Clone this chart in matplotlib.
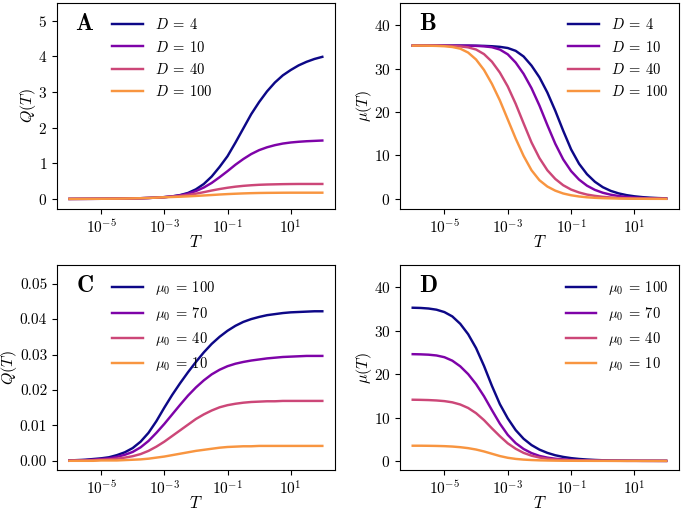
import numpy as np
import matplotlib
matplotlib.use("Agg")
import matplotlib.pyplot as plt

# ------------------------------
# Style
# ------------------------------
plt.rcParams["font.family"] = "serif"
plt.rcParams["font.serif"] = ["cmr10", "DejaVu Serif"]
plt.rcParams["mathtext.fontset"] = "cm"
plt.rcParams["axes.formatter.use_mathtext"] = True
plt.rcParams["font.size"] = 11

COLORS = ["#0d0887", "#7e03a8", "#cc4778", "#f89540"]

# ------------------------------
# Data
# ------------------------------
LOG_T = [-6.0, -5.75, -5.5, -5.25, -5.0, -4.75, -4.5, -4.25, -4.0, -3.75, -3.5,
         -3.25, -3.0, -2.75, -2.5, -2.25, -2.0, -1.75, -1.5, -1.25, -1.0, -0.75,
         -0.5, -0.25, 0.0, 0.25, 0.5, 0.75, 1.0, 1.25, 1.5, 1.75, 2.0]

D_LABELS = [r"$D\:=\:4$", r"$D\:=\:10$", r"$D\:=\:40$", r"$D\:=\:100$"]
MU0_LABELS = [r"$\mu_0\:=\:100$", r"$\mu_0\:=\:70$", r"$\mu_0\:=\:40$", r"$\mu_0\:=\:10$"]

# panel A: Q(T) for different D
Q_D4 = [0.0, 0.001, 0.002, 0.003, 0.004, 0.006, 0.008, 0.011, 0.015, 0.02, 0.027,
        0.037, 0.05, 0.072, 0.108, 0.168, 0.27, 0.42, 0.63, 0.9, 1.2, 1.58,
        1.98, 2.38, 2.72, 3.02, 3.27, 3.47, 3.62, 3.75, 3.85, 3.93, 3.99]
Q_D10 = [0.0, 0.001, 0.002, 0.003, 0.004, 0.006, 0.008, 0.011, 0.015, 0.02, 0.027,
         0.037, 0.05, 0.07, 0.10, 0.148, 0.22, 0.32, 0.45, 0.61, 0.78, 0.96,
         1.12, 1.26, 1.37, 1.45, 1.51, 1.555, 1.585, 1.605, 1.62, 1.63, 1.64]
Q_D40 = [0.0, 0.001, 0.002, 0.003, 0.004, 0.006, 0.008, 0.011, 0.015, 0.02, 0.027,
         0.037, 0.05, 0.065, 0.085, 0.112, 0.147, 0.19, 0.236, 0.278, 0.314, 0.344,
         0.367, 0.384, 0.397, 0.405, 0.41, 0.415, 0.418, 0.42, 0.42, 0.42, 0.42]
Q_D100 = [0.0, 0.001, 0.002, 0.003, 0.004, 0.006, 0.008, 0.011, 0.015, 0.02, 0.027,
          0.037, 0.047, 0.054, 0.062, 0.072, 0.084, 0.097, 0.11, 0.124, 0.136, 0.146,
          0.155, 0.162, 0.167, 0.17, 0.172, 0.174, 0.175, 0.175, 0.175, 0.175, 0.175]

# panel B: mu(T) for different D
MU_D4 = [35.3, 35.3, 35.3, 35.3, 35.3, 35.3, 35.3, 35.3, 35.28, 35.24, 35.16,
         35.02, 34.75, 34.1, 32.8, 30.7, 28.0, 24.5, 20.3, 15.7, 11.4, 8.1,
         5.7, 3.95, 2.7, 1.85, 1.27, 0.87, 0.6, 0.41, 0.28, 0.19, 0.13]
MU_D10 = [35.3, 35.3, 35.3, 35.3, 35.3, 35.3, 35.3, 35.28, 35.24, 35.14, 34.93,
          34.4, 33.3, 31.4, 28.8, 25.5, 21.5, 17.0, 12.7, 9.1, 6.4, 4.45,
          3.05, 2.08, 1.42, 0.97, 0.67, 0.46, 0.31, 0.21, 0.14, 0.1, 0.07]
MU_D40 = [35.3, 35.3, 35.3, 35.3, 35.28, 35.22, 35.12, 34.9, 34.4, 33.35, 31.6,
          29.1, 25.9, 21.9, 17.4, 13.0, 9.4, 6.6, 4.6, 3.15, 2.15, 1.48,
          1.0, 0.7, 0.48, 0.33, 0.22, 0.15, 0.1, 0.08, 0.06, 0.05, 0.04]
MU_D100 = [35.3, 35.3, 35.28, 35.24, 35.16, 34.98, 34.6, 33.7, 32.1, 29.7, 26.5,
           22.7, 18.3, 13.9, 9.9, 6.6, 4.3, 2.85, 1.9, 1.25, 0.84, 0.56,
           0.37, 0.25, 0.17, 0.12, 0.08, 0.06, 0.04, 0.03, 0.02, 0.02, 0.01]

# panel C: Q(T) for different mu0
Q_MU100 = [0.0001, 0.0002, 0.0003, 0.0005, 0.0007, 0.0010, 0.0016, 0.0024, 0.0036,
           0.0054, 0.0079, 0.0112, 0.0150, 0.0186, 0.0219, 0.0250, 0.0279, 0.0306,
           0.0330, 0.0350, 0.0367, 0.0381, 0.0392, 0.0400, 0.0406, 0.0411, 0.0414,
           0.0417, 0.0419, 0.0420, 0.0421, 0.0422, 0.0422]
Q_MU70 = [0.0001, 0.0001, 0.0002, 0.0003, 0.0005, 0.0007, 0.0011, 0.0017, 0.0025,
          0.0038, 0.0056, 0.0079, 0.0104, 0.0131, 0.0158, 0.0184, 0.0207, 0.0227,
          0.0244, 0.0257, 0.0267, 0.0274, 0.0279, 0.0283, 0.0286, 0.0289, 0.0291,
          0.0293, 0.0294, 0.0295, 0.0296, 0.0296, 0.0296]
Q_MU40 = [0.0000, 0.0001, 0.0001, 0.0002, 0.0003, 0.0004, 0.0006, 0.0009, 0.0013,
          0.0019, 0.0028, 0.0040, 0.0054, 0.0070, 0.0086, 0.0102, 0.0118, 0.0131,
          0.0142, 0.0151, 0.0157, 0.0161, 0.0164, 0.0166, 0.0167, 0.0168, 0.0168,
          0.0169, 0.0169, 0.0169, 0.0169, 0.0169, 0.0169]
Q_MU10 = [0.0, 0.0, 0.0, 0.0, 0.0001, 0.0001, 0.0001, 0.0002, 0.0003,
          0.0004, 0.0006, 0.0009, 0.0012, 0.0016, 0.0020, 0.0024, 0.0028, 0.0031,
          0.0034, 0.0037, 0.0039, 0.0040, 0.0041, 0.0041, 0.0042, 0.0042, 0.0042,
          0.0042, 0.0042, 0.0042, 0.0042, 0.0042, 0.0042]

# panel D: mu(T) for different mu0
MU_MU100 = [35.3, 35.25, 35.12, 34.85, 34.3, 33.3, 31.6, 29.2, 26.0, 21.9, 17.3,
            13.1, 9.8, 7.1, 5.1, 3.65, 2.6, 1.85, 1.3, 0.92, 0.64, 0.45,
            0.32, 0.22, 0.15, 0.1, 0.07, 0.05, 0.03, 0.02, 0.02, 0.01, 0.01]
MU_MU70 = [24.6, 24.56, 24.48, 24.3, 23.9, 23.1, 21.8, 20.0, 17.7, 14.9, 11.7,
           8.6, 6.0, 4.1, 2.75, 1.8, 1.15, 0.76, 0.5, 0.35, 0.25, 0.17,
           0.12, 0.08, 0.06, 0.04, 0.03, 0.02, 0.02, 0.01, 0.01, 0.01, 0.0]
MU_MU40 = [14.1, 14.07, 14.02, 13.93, 13.78, 13.5, 13.0, 12.2, 11.0, 9.4, 7.5,
           5.7, 4.05, 2.8, 1.85, 1.2, 0.78, 0.5, 0.32, 0.22, 0.15, 0.1,
           0.07, 0.05, 0.03, 0.02, 0.02, 0.01, 0.01, 0.01, 0.0, 0.0, 0.0]
MU_MU10 = [3.5, 3.5, 3.48, 3.45, 3.4, 3.31, 3.16, 2.94, 2.62, 2.18, 1.65,
           1.12, 0.72, 0.46, 0.3, 0.2, 0.13, 0.09, 0.06, 0.04, 0.03, 0.02,
           0.02, 0.01, 0.01, 0.01, 0.0, 0.0, 0.0, 0.0, 0.0, 0.0, 0.0]

T = np.power(10.0, LOG_T)

# ------------------------------
# Figure
# ------------------------------
fig = plt.figure(figsize=(6.85, 5.12), dpi=100)
ax_a = fig.add_axes([0.083, 0.592, 0.406, 0.402])
ax_b = fig.add_axes([0.584, 0.592, 0.407, 0.402])
ax_c = fig.add_axes([0.083, 0.082, 0.406, 0.400])
ax_d = fig.add_axes([0.584, 0.082, 0.407, 0.400])

panels = [
    (ax_a, "A", [Q_D4, Q_D10, Q_D40, Q_D100], D_LABELS, r"$Q(T)$",
     (-0.28, 5.5), [0, 1, 2, 3, 4, 5], "left", 0.0),
    (ax_b, "B", [MU_D4, MU_D10, MU_D40, MU_D100], D_LABELS, r"$\mu(T)$",
     (-2.3, 45.1), [0, 10, 20, 30, 40], "right", 0.0),
    (ax_c, "C", [Q_MU100, Q_MU70, Q_MU40, Q_MU10], MU0_LABELS, r"$Q(T)$",
     (-0.0026, 0.0552), [0.0, 0.01, 0.02, 0.03, 0.04, 0.05], "left", 0.5),
    (ax_d, "D", [MU_MU100, MU_MU70, MU_MU40, MU_MU10], MU0_LABELS, r"$\mu(T)$",
     (-2.1, 45.1), [0, 10, 20, 30, 40], "right", 0.0),
]

for ax, tag, series, labels, ylabel, ylim, yticks, side, ypad in panels:
    for ys, lab, col in zip(series, labels, COLORS):
        ax.plot(T, ys, color=col, lw=1.75, label=lab, solid_joinstyle="round")
    ax.set_xscale("log")
    ax.set_xlim(10 ** -6.4, 10 ** 2.4)
    ax.set_xticks([1e-5, 1e-3, 1e-1, 1e1])
    ax.xaxis.set_minor_locator(matplotlib.ticker.NullLocator())
    ax.set_ylim(*ylim)
    ax.set_yticks(yticks)
    if tag == "C":
        ax.yaxis.set_major_formatter(matplotlib.ticker.FormatStrFormatter("%.2f"))
    ax.set_xlabel(r"$T$", fontsize=12, labelpad=-2)
    ax.set_ylabel(ylabel, fontsize=11.5, labelpad=ypad)
    ax.tick_params(labelsize=11)
    ax.text(0.1, 0.9, r"$\mathbf{" + tag + "}$", transform=ax.transAxes,
            fontsize=17, ha="center", va="center")
    if side == "left":
        ax.legend(loc="upper left", bbox_to_anchor=(0.152, 0.995), frameon=False,
                  fontsize=10.5, handlelength=2.1, handletextpad=0.8,
                  labelspacing=0.5)
    else:
        ax.legend(loc="upper right", bbox_to_anchor=(1.009, 0.995), frameon=False,
                  fontsize=10.5, handlelength=2.1, handletextpad=0.8,
                  labelspacing=0.5)

fig.savefig("out.png", dpi=100)
